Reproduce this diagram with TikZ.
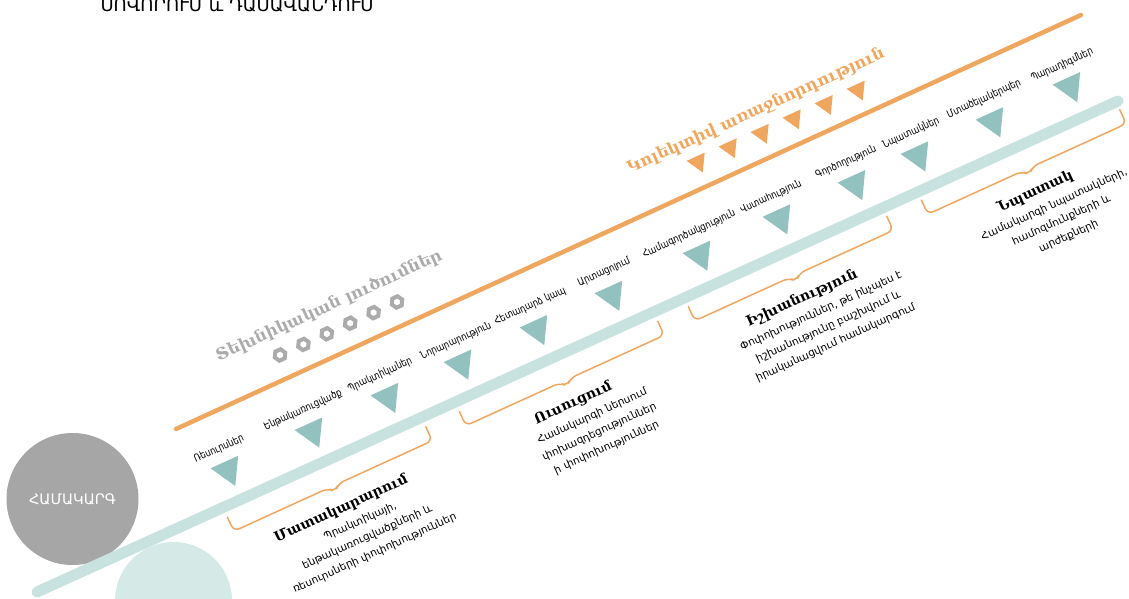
\documentclass[tikz,border=0pt]{standalone}
\usepackage{fontspec}
\setmainfont{DejaVu Sans}
\newfontfamily\armserif{DejaVu Serif}
\newfontfamily\armnarrow{DejaVu Sans}[FakeStretch=0.81]
\usetikzlibrary{shapes.geometric}
\definecolor{tealband}{HTML}{C7E2DF}
\definecolor{tealmark}{HTML}{93C1BF}
\definecolor{tealdisc}{HTML}{D5E9E7}
\definecolor{orangeline}{HTML}{EFA65E}
\definecolor{greydisc}{HTML}{A6A6A6}
\definecolor{greytext}{HTML}{ABABAB}

\begin{document}
\begin{tikzpicture}[x=1pt,y=-1pt,
    tri/.style={regular polygon, regular polygon sides=3, shape border rotate=180,
      fill=tealmark, inner sep=0pt, minimum size=35pt, rotate=24.5},
    otri/.style={tri, fill=orangeline, minimum size=23pt},
    nut/.style={regular polygon, regular polygon sides=6, draw=greytext, line width=4pt,
      inner sep=0pt, minimum size=11.5pt, rotate=24.5},
    lbl/.style={font=\armnarrow\fontsize{10.5}{12}\selectfont, rotate=24.5, inner sep=1pt},
    head/.style={font=\armserif\bfseries\fontsize{14}{16}\selectfont},
    desc/.style={font=\fontsize{10.5}{17.5}\selectfont, align=center, anchor=north},
    bracebar/.style={draw=orangeline, line width=1.5pt, rounded corners=6pt}]
  \clip (0,0) rectangle (1129,599);
  % circles on the left
  \node[circle, fill=tealdisc, minimum size=117pt, inner sep=0pt] (disc) at (173.5,600.5) {};
  \node[circle, fill=greydisc, minimum size=132pt, inner sep=0pt, text=white,
    font=\fontsize{14.5}{16}\selectfont] (system) at (72.5,499) {ՀԱՄԱԿԱՐԳ};
  \node[anchor=base west, font=\fontsize{18}{20}\selectfont] (title) at (97,11.5) {ՍՈՎՈՐՈՒՄ և ԴԱՍԱՎԱՆԴՈՒՄ};
  % the two lines
  \coordinate (bandL) at (37,592);
  \coordinate (bandR) at (1118,101);
  \coordinate (leadL) at (176,429);
  \coordinate (leadR) at (1081,15);
  \draw[tealband, line width=11pt, line cap=round] (bandL) -- (bandR);
  \draw[orangeline, line width=4.5pt, line cap=round] (leadL) -- (leadR);
  % markers along the band
  \node[tri] (t1) at (228,470) {};
  \node[tri] (t2) at (312,431.7) {};
  \node[tri] (t3) at (388,397.1) {};
  \node[tri] (t4) at (461,363.8) {};
  \node[tri] (t5) at (537,329.2) {};
  \node[tri] (t6) at (612,295) {};
  \node[tri] (t7) at (700,254.9) {};
  \node[tri] (t8) at (780,218.5) {};
  \node[tri] (t9) at (855,184.3) {};
  \node[tri] (t10) at (918,155.6) {};
  \node[tri] (t11) at (993,121.4) {};
  \node[tri] (t12) at (1070,86.3) {};
  \node[lbl] (l1) at (219,449) {Ռեսուրսներ};
  \node[lbl] (l2) at (303,410) {Ենթակառուցվածք};
  \node[lbl] (l3) at (380,375) {Պրակտիկաներ};
  \node[lbl] (l4) at (456,341) {Նորարարություն};
  \node[lbl] (l5) at (530,306) {Հետադարձ կապ};
  \node[lbl] (l6) at (604,272) {Արտացոլում};
  \node[lbl] (l7) at (689,234) {Համագործակցություն};
  \node[lbl] (l8) at (771,197) {Վստահություն};
  \node[lbl] (l9) at (846,162) {Գործողություն};
  \node[lbl] (l10) at (911,133) {Նպատակներ};
  \node[lbl] (l11) at (984,99) {Մտածելակերպեր};
  \node[lbl] (l12) at (1062,65) {Պարադիգմներ};
  % technical side
  \node[font=\armserif\bfseries\fontsize{16.3}{20}\selectfont, text=greytext, rotate=24.5] (tech) at (329,306) {Տեխնիկական լուծումներ};
  \node[nut] (n1) at (280,355) {};
  \node[nut] (n2) at (303.4,344.4) {};
  \node[nut] (n3) at (326.8,333.8) {};
  \node[nut] (n4) at (350.2,323.2) {};
  \node[nut] (n5) at (373.6,312.6) {};
  \node[nut] (n6) at (397,302) {};
  % leadership side
  \node[font=\armserif\bfseries\fontsize{16.3}{20}\selectfont, text=orangeline, rotate=24.5] (lead) at (756,111) {Կոլեկտիվ առաջնորդություն};
  \node[otri] (o1) at (698,162) {};
  \node[otri] (o2) at (730,147.6) {};
  \node[otri] (o3) at (762,133.2) {};
  \node[otri] (o4) at (794,118.8) {};
  \node[otri] (o5) at (826,104.4) {};
  \node[otri] (o6) at (858,90) {};
  % brackets with their texts
  \begin{scope}[shift={(333,486)}, rotate=24.5, transform shape]
    \draw[bracebar] (-109,-16) -- (-109,0) -- (-6,0) -- (0,6) -- (6,0) -- (109,0) -- (109,-16);
    \node[head] (supply) at (-2,24) {Մատակարարում};
    \node[desc] (supplytxt) at (10,35) {Պրակտիկայի,\\ենթակառուցվածքների և\\ռեսուրսների փոփոխություններ};
  \end{scope}
  \begin{scope}[shift={(565,380.5)}, rotate=24.5, transform shape]
    \draw[bracebar] (-109,-16) -- (-109,0) -- (-6,0) -- (0,6) -- (6,0) -- (109,0) -- (109,-16);
    \node[head] (learn) at (-2,24) {Ուսուցում};
    \node[desc] (learntxt) at (10,35) {Համակարգի ներսում\\փոխազդեցություններ\\ի փոփոխություններ};
  \end{scope}
  \begin{scope}[shift={(794,275.6)}, rotate=24.5, transform shape]
    \draw[bracebar] (-109,-16) -- (-109,0) -- (-6,0) -- (0,6) -- (6,0) -- (109,0) -- (109,-16);
    \node[head] (power) at (-2,24) {Իշխանություն};
    \node[desc] (powertxt) at (10,35) {Փոփոխություններ, թե ինչպես է\\իշխանությունը բաշխվում և\\իրականացվում համակարգում};
  \end{scope}
  \begin{scope}[shift={(1027,169)}, rotate=24.5, transform shape]
    \draw[bracebar] (-109,-16) -- (-109,0) -- (-6,0) -- (0,6) -- (6,0) -- (109,0) -- (109,-16);
    \node[head] (aim) at (-2,24) {Նպատակ};
    \node[desc] (aimtxt) at (10,35) {Համակարգի նպատակների,\\համոզմունքների և\\արժեքների};
  \end{scope}
\end{tikzpicture}
\end{document}
